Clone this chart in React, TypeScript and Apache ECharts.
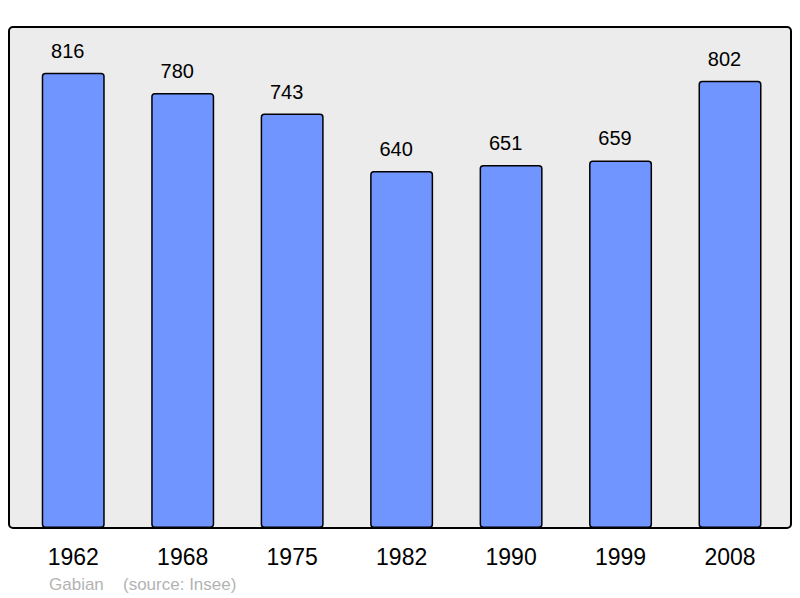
import React, { useEffect, useRef } from "react";
import * as echarts from "echarts";

const years = ["1962", "1968", "1975", "1982", "1990", "1999", "2008"];
const population = [816, 780, 743, 640, 651, 659, 802];
const townName = "Gabian";
const sourceText = "(source: Insee)";

const FONT = "'Liberation Sans', Arial, Helvetica, sans-serif";

export default function App() {
  const ref = useRef<HTMLDivElement>(null);
  useEffect(() => {
    if (!ref.current) return;
    const chart = echarts.init(ref.current, null, { renderer: "svg" });
    chart.setOption({
      animation: false,
      backgroundColor: "#ffffff",
      grid: { left: 18.5, right: 15.25, top: 26, bottom: 70, containLabel: false },
      xAxis: {
        type: "category",
        data: years,
        boundaryGap: true,
        axisLine: { show: false },
        axisTick: { show: false },
        axisLabel: {
          color: "#000000",
          fontSize: 23,
          fontFamily: FONT,
          margin: 17,
        },
      },
      yAxis: {
        type: "value",
        min: 0,
        max: 900,
        show: false,
        splitLine: { show: false },
      },
      graphic: [
        {
          type: "rect",
          z: -10,
          shape: { x: 9, y: 27, width: 782, height: 501, r: 4 },
          style: { fill: "#ececec", stroke: "#000000", lineWidth: 2 },
          silent: true,
        },
        {
          type: "text",
          x: 49,
          y: 584,
          style: {
            text: townName,
            fill: "#b3b3b3",
            fontSize: 17,
            fontFamily: FONT,
            verticalAlign: "middle",
          },
        },
        {
          type: "text",
          x: 123,
          y: 584,
          style: {
            text: sourceText,
            fill: "#b3b3b3",
            fontSize: 17,
            fontFamily: FONT,
            verticalAlign: "middle",
          },
        },
      ],
      series: [
        {
          type: "bar",
          data: population,
          barWidth: 63,
          itemStyle: {
            color: "#7095ff",
            borderColor: "#000000",
            borderWidth: 1.5,
            borderRadius: 3,
          },
          label: {
            show: true,
            position: "top",
            distance: 12,
            offset: [-5.5, 0],
            color: "#000000",
            fontSize: 20,
            fontFamily: FONT,
          },
        },
      ],
    });
    return () => chart.dispose();
  }, []);
  return (
    <div
      ref={ref}
      style={{ position: "fixed", left: 0, top: 0, width: 800, height: 598 }}
    />
  );
}
